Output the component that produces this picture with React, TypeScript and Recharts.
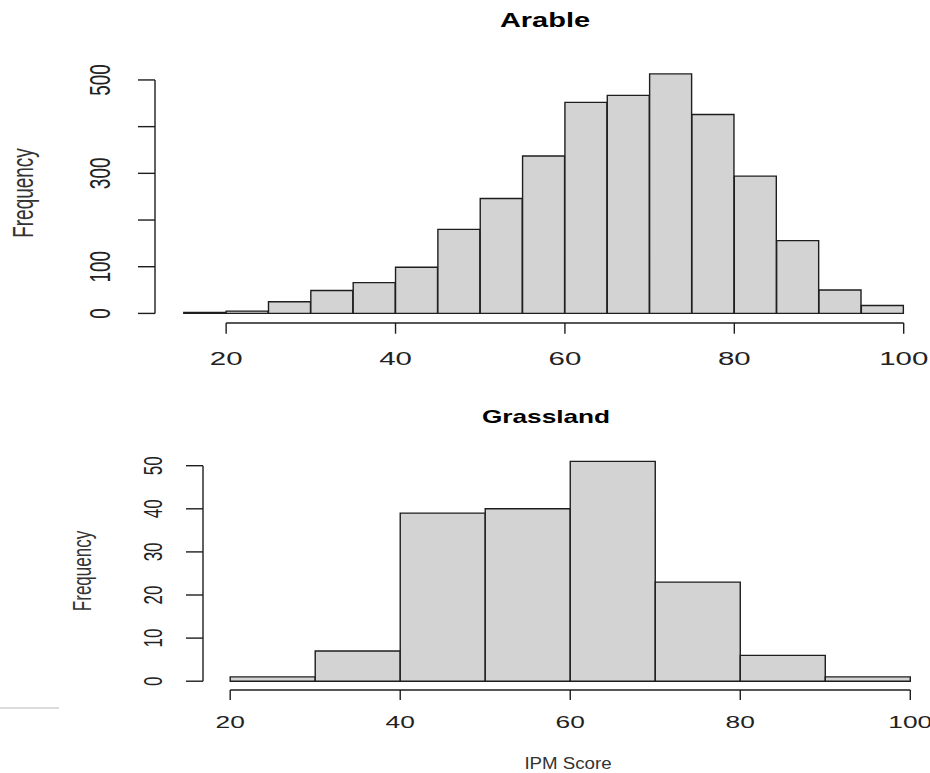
import React from "react";
import { BarChart, Bar, XAxis, YAxis, ReferenceLine } from "recharts";

// Arable: counts per 5-point IPM score bin
const arableBreaks = [15, 20, 25, 30, 35, 40, 45, 50, 55, 60, 65, 70, 75, 80, 85, 90, 95, 100];
const arableCounts = [2, 5, 25, 49, 66, 99, 180, 246, 337, 452, 467, 513, 426, 294, 156, 50, 17];
const arableXTicks = [20, 40, 60, 80, 100];
const arableYTicks = [0, 100, 200, 300, 400, 500];
const arableYLabels = [0, 100, 300, 500];

// Grassland: counts per 10-point IPM score bin
const grassBreaks = [20, 30, 40, 50, 60, 70, 80, 90, 100];
const grassCounts = [1, 7, 39, 40, 51, 23, 6, 1];
const grassXTicks = [20, 40, 60, 80, 100];
const grassYTicks = [0, 10, 20, 30, 40, 50];
const grassYLabels = [0, 10, 20, 30, 40, 50];

const FONT = "'Liberation Sans', Arial, Helvetica, sans-serif";
const INK = "#1e1e1e";
const FILL = "#d3d3d3";
const YAXIS_W = 100;
const XAXIS_H = 50;

interface Box {
  top: number;
  width: number;
  height: number;
  plotLeft: number;
  plotRight: number;
  plotTop: number;
  plotBottom: number;
}

interface TextCfg {
  fs: number;
  sx: number;
  xTickLen: number;
  yTickLen: number;
  xLabelDy: number;
  yLabelDx: number;
}

function XTick(props: any) {
  const { x, y, payload, cfg } = props;
  return (
    <g>
      <line x1={x} x2={x} y1={y} y2={y + cfg.xTickLen} stroke={INK} strokeWidth={1.4} />
      <g transform={`translate(${x},${y + cfg.xLabelDy}) scale(${cfg.sx},1)`}>
        <text textAnchor="middle" fontSize={cfg.fs} fontFamily={FONT} fill="#222">
          {payload.value}
        </text>
      </g>
    </g>
  );
}

function YTick(props: any) {
  const { x, y, payload, cfg, labels } = props;
  const show = labels.includes(payload.value);
  return (
    <g>
      <line x1={x - cfg.yTickLen} x2={x} y1={y} y2={y} stroke={INK} strokeWidth={1.4} />
      {show && (
        <g transform={`translate(${x - cfg.yLabelDx},${y}) scale(${cfg.sx},1) rotate(-90)`}>
          <text textAnchor="middle" fontSize={cfg.fs} fontFamily={FONT} fill="#222">
            {payload.value}
          </text>
        </g>
      )}
    </g>
  );
}

function Histogram({
  breaks, counts, xTicks, yTicks, yLabels, box, cfg,
}: {
  breaks: number[];
  counts: number[];
  xTicks: number[];
  yTicks: number[];
  yLabels: number[];
  box: Box;
  cfg: TextCfg;
}) {
  const data = counts.map((c, i) => ({
    bin: `${breaks[i]}-${breaks[i + 1]}`,
    lo: breaks[i],
    count: c,
  }));
  const lo = breaks[0];
  const hi = breaks[breaks.length - 1];
  // R extends the axis range by 4% on each side
  const ext = 0.04 * (hi - lo);
  const xDomain: [number, number] = [lo - ext, hi + ext];
  const yMax = Math.max(...counts);
  const yDomain: [number, number] = [-0.04 * yMax, 1.04 * yMax];
  const plotW = box.plotRight - box.plotLeft;
  const binPad = (ext * plotW) / (xDomain[1] - xDomain[0]);

  return (
    <div style={{ position: "absolute", left: 0, top: box.top }}>
      <BarChart
        width={box.width}
        height={box.height}
        data={data}
        barCategoryGap={0}
        barGap={0}
        margin={{
          top: box.plotTop,
          right: box.width - box.plotRight,
          bottom: box.height - box.plotBottom - XAXIS_H,
          left: box.plotLeft - YAXIS_W,
        }}
      >
        <XAxis
          xAxisId="bin"
          dataKey="bin"
          hide
          height={0}
          padding={{ left: binPad, right: binPad }}
        />
        <XAxis
          xAxisId="num"
          dataKey="lo"
          type="number"
          domain={xDomain}
          allowDataOverflow
          ticks={xTicks}
          interval={0}
          height={XAXIS_H}
          axisLine={false}
          tickLine={false}
          tickSize={0}
          tickMargin={0}
          tick={(p: any) => <XTick {...p} cfg={cfg} />}
        />
        <YAxis
          yAxisId="y"
          type="number"
          domain={yDomain}
          allowDataOverflow
          ticks={yTicks}
          interval={0}
          width={YAXIS_W}
          axisLine={false}
          tickLine={false}
          tickSize={0}
          tickMargin={0}
          tick={(p: any) => <YTick {...p} cfg={cfg} labels={yLabels} />}
        />
        <Bar
          xAxisId="bin"
          yAxisId="y"
          dataKey="count"
          fill={FILL}
          stroke={INK}
          strokeWidth={1.4}
          isAnimationActive={false}
        />
        <ReferenceLine
          xAxisId="num"
          yAxisId="y"
          segment={[{ x: xTicks[0], y: yDomain[0] }, { x: xTicks[xTicks.length - 1], y: yDomain[0] }]}
          stroke={INK}
          strokeWidth={1.4}
          ifOverflow="visible"
        />
        <ReferenceLine
          xAxisId="num"
          yAxisId="y"
          segment={[{ x: xDomain[0], y: yTicks[0] }, { x: xDomain[0], y: yTicks[yTicks.length - 1] }]}
          stroke={INK}
          strokeWidth={1.4}
          ifOverflow="visible"
        />
      </BarChart>
    </div>
  );
}

function Label({ x, y, text, fs, sx, bold, rotate, fill }: {
  x: number; y: number; text: string; fs: number; sx: number;
  bold?: boolean; rotate?: boolean; fill?: string;
}) {
  return (
    <g transform={`translate(${x},${y}) scale(${sx},1)${rotate ? " rotate(-90)" : ""}`}>
      <text
        textAnchor="middle"
        fontSize={fs}
        fontFamily={FONT}
        fontWeight={bold ? 700 : 400}
        fill={fill ?? "#222"}
      >
        {text}
      </text>
    </g>
  );
}

export default function App() {
  const topBox: Box = { top: 0, width: 945, height: 380, plotLeft: 155, plotRight: 932.5, plotTop: 64.3, plotBottom: 323 };
  const botBox: Box = { top: 380, width: 950, height: 393, plotLeft: 203, plotRight: 937.5, plotTop: 72.6, plotBottom: 310 };
  const topCfg: TextCfg = { fs: 19, sx: 1.55, xTickLen: 10.7, yTickLen: 17, xLabelDy: 42, yLabelDx: 45 };
  const botCfg: TextCfg = { fs: 17, sx: 1.55, xTickLen: 10, yTickLen: 17, xLabelDy: 38, yLabelDx: 41 };

  return (
    <div
      style={{
        position: "absolute", left: 0, top: 0, width: 930, height: 773,
        overflow: "hidden", background: "#fff",
      }}
    >
      <svg width={930} height={773} style={{ position: "absolute", left: 0, top: 0 }}>
        <Label x={545} y={27} text="Arable" fs={20} sx={1.45} bold fill="#000" />
        <Label x={33} y={193} text="Frequency" fs={19} sx={1.55} rotate fill="#333" />
        <Label x={546} y={423} text="Grassland" fs={19} sx={1.38} bold fill="#000" />
        <Label x={91} y={571} text="Frequency" fs={17} sx={1.55} rotate fill="#333" />
        <Label x={568} y={769} text="IPM Score" fs={17} sx={1.1} fill="#333" />
      </svg>
      <div style={{ position: "absolute", left: 0, top: 706.5, width: 59, height: 2, background: "#dcdcdc" }} />
      <Histogram
        breaks={arableBreaks}
        counts={arableCounts}
        xTicks={arableXTicks}
        yTicks={arableYTicks}
        yLabels={arableYLabels}
        box={topBox}
        cfg={topCfg}
      />
      <Histogram
        breaks={grassBreaks}
        counts={grassCounts}
        xTicks={grassXTicks}
        yTicks={grassYTicks}
        yLabels={grassYLabels}
        box={botBox}
        cfg={botCfg}
      />
    </div>
  );
}
